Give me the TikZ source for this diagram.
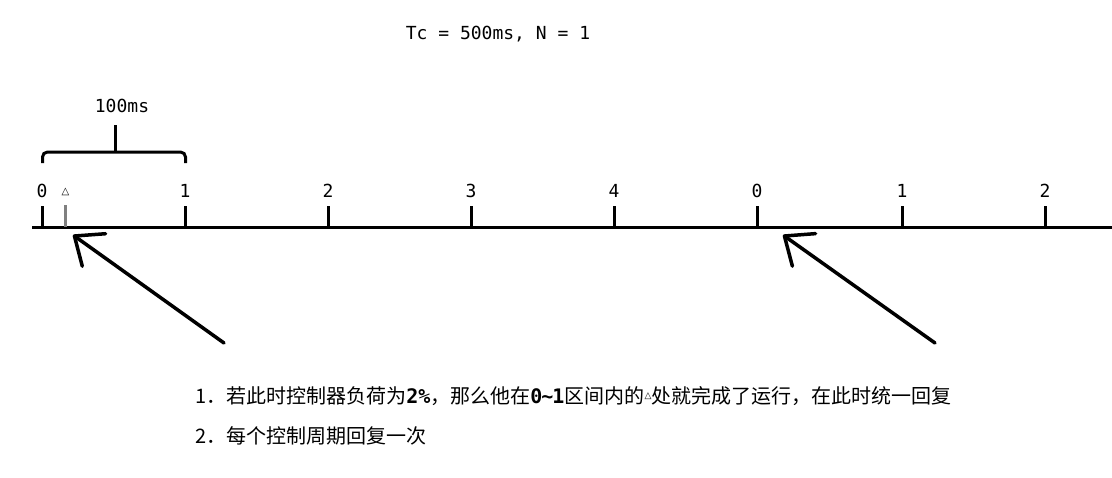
\documentclass[tikz,border=0pt]{standalone}
\usepackage{fontspec}
\usetikzlibrary{arrows.meta}
\newfontfamily\cjk{Noto Sans CJK SC}
\newfontfamily\mono{DejaVu Sans Mono}
\newfontfamily\sym{DejaVu Sans}
\begin{document}
\begin{tikzpicture}[x=1pt,y=-1pt,
  thick line/.style={line width=3pt},
  ticklab/.style={font=\mono\fontsize{18}{21}\selectfont, inner sep=0pt},
  tickmark/.style={line width=3pt},
  pointer/.style={line width=3.5pt, line cap=round, line join=round,
    -{Straight Barb[length=24pt, width=40pt, line cap=round, line join=round]}},
  note/.style={font=\cjk\fontsize{20}{23}\selectfont, anchor=west, inner sep=0pt}]
\useasboundingbox (0,0) rectangle (1112,477);

\node[ticklab] (title) at (498,34) {Tc = 500ms, N = 1};

% axis
\coordinate (axL) at (32,227);
\coordinate (axR) at (1112,227);
\draw[thick line] (axL) -- (axR);

% ticks
\foreach \name/\x/\lab in {t0/42/0, t1/185/1, t2/328/2, t3/471/3, t4/614/4, t5/757/0, t6/902/1, t7/1045/2}{
  \coordinate (\name top) at (\x,206);
  \coordinate (\name bot) at (\x,227);
  \draw[tickmark] (\name top) -- (\name bot);
  \node[ticklab] (\name lab) at (\x,191) {\lab};
}
% gray tick and triangle
\coordinate (gtop) at (65.5,205);
\coordinate (gbot) at (65.5,227);
\draw[line width=3pt, gray] (gtop) -- (gbot);
\node[inner sep=0pt, font=\sym\fontsize{10}{11}\selectfont] (tri) at (65.5,192) {△};

% brace
\coordinate (bL) at (42.5,163);
\coordinate (bR) at (185.5,163);
\coordinate (bM) at (115,152);
\coordinate (bS) at (115,125);
\draw[thick line, rounded corners=5pt] (bL) -- (42.5,152) -- (185.5,152) -- (bR);
\draw[thick line] (bM) -- (bS);
\node[ticklab] (ms) at (122,106) {100ms};

% arrows
\coordinate (a1s) at (224,343);
\coordinate (a1e) at (73,235);
\draw[pointer] (a1s) -- (a1e);
\coordinate (a2s) at (935,343);
\coordinate (a2e) at (783,235);
\draw[pointer] (a2s) -- (a2e);

% notes
\node[note] (n1) at (195,396) {1．若此时控制器负荷为{\mono\bfseries 2\%}，那么他在{\mono\bfseries 0\kern-1pt\textasciitilde\kern-1pt1}区间内的{\sym\fontsize{9}{10}\selectfont\raisebox{5pt}{△}}处就完成了运行，在此时统一回复};
\node[note] (n2) at (195,436) {2．每个控制周期回复一次};
\end{tikzpicture}
\end{document}
